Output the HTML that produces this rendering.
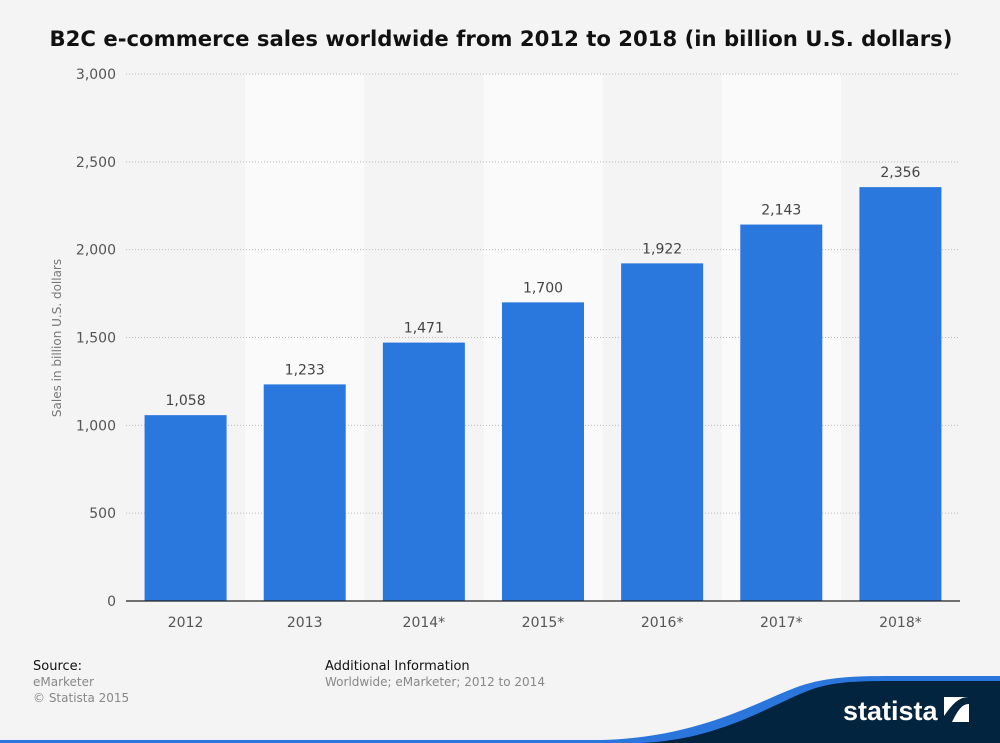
<!DOCTYPE html>
<html><head><meta charset="utf-8">
<style>
body{margin:0;width:1000px;height:743px;background:#f4f4f4;overflow:hidden;font-family:"DejaVu Sans","Liberation Sans",sans-serif;}
svg{position:absolute;left:0;top:0}
</style></head>
<body>
<svg id="chart" width="1000" height="743" xmlns="http://www.w3.org/2000/svg">
<rect width="1000" height="743" fill="#f4f4f4"/>
<text x="501" y="46" text-anchor="middle" font-size="21.2" font-weight="bold" fill="#111">B2C e-commerce sales worldwide from 2012 to 2018 (in billion U.S. dollars)</text>
<g id="bands"></g><g id="grid"></g><g id="bars"></g><g id="labels"></g>
<line x1="126" y1="601" x2="960" y2="601" stroke="#222" stroke-width="1.2"/>
<text transform="translate(61,338) rotate(-90)" text-anchor="middle" font-size="12" fill="#777">Sales in billion U.S. dollars</text>
<text x="33" y="670" font-size="13" fill="#111">Source:</text>
<text x="33" y="686" font-size="12" fill="#888">eMarketer</text>
<text x="33" y="702" font-size="12" fill="#888">© Statista 2015</text>
<text x="325" y="670" font-size="13" fill="#111">Additional Information</text>
<text x="325" y="686" font-size="12" fill="#888">Worldwide; eMarketer; 2012 to 2014</text>
<path d="M0,740 L600,740 C700,738 760,700 800,686 C830,676 860,676 900,676 L1000,676 L1000,743 L0,743 Z" fill="#2a76dd"/>
<path d="M640,743 C720,740 770,705 810,690 C835,681 860,681 900,681 L1000,681 L1000,743 Z" fill="#03243e"/>
<text x="843" y="720" font-size="27" font-weight="bold" fill="#fff" font-family="Liberation Sans Narrow, Liberation Sans, sans-serif">statista</text>
<g><rect x="944" y="697" width="25" height="25" fill="#fff"/><path d="M944,722 L952,722 C958,710 962,704 969,704 L969,697 C958,697 952,705 944,716 Z" fill="#03243e"/></g>
</svg>
<script>
const categories=["2012","2013","2014*","2015*","2016*","2017*","2018*"];
const values=[1058,1233,1471,1700,1922,2143,2356];
const valueLabels=["1,058","1,233","1,471","1,700","1,922","2,143","2,356"];
const yTicks=[0,500,1000,1500,2000,2500,3000];
const yTickLabels=["0","500","1,000","1,500","2,000","2,500","3,000"];
const NS="http://www.w3.org/2000/svg";
const x0=126,x1=960,yTop=74,yBot=601,yMax=3000;
const bw=(x1-x0)/categories.length;
function y(v){return yBot-(v/yMax)*(yBot-yTop);}
function xc(i){return x0+bw*(i+0.5);}
function mk(tag,attrs,parent){const e=document.createElementNS(NS,tag);for(const k in attrs)e.setAttribute(k,attrs[k]);document.getElementById(parent).appendChild(e);return e;}
categories.forEach((c,i)=>{if(i%2===1){const b=mk('rect',{x:x0+bw*i,y:yTop,width:bw,height:yBot-yTop,fill:'#fafafa'},'bands');

}});
yTicks.forEach((t,i)=>{if(t>0){const l=mk('line',{x1:x0,x2:x1,y1:y(t),y2:y(t),stroke:'#bbb','stroke-dasharray':'1,2'},'grid');

}
const tx=mk('text',{x:116,y:y(t)+5,'text-anchor':'end','font-size':14,fill:'#555'},'labels');tx.textContent=yTickLabels[i];

});
values.forEach((v,i)=>{const w=82;const r=mk('rect',{x:xc(i)-w/2,y:y(v),width:w,height:yBot-y(v),fill:'#2a77de'},'bars');


const t=mk('text',{x:xc(i),y:y(v)-10,'text-anchor':'middle','font-size':14,fill:'#444'},'labels');t.textContent=valueLabels[i];


const c=mk('text',{x:xc(i),y:627,'text-anchor':'middle','font-size':14,fill:'#555'},'labels');c.textContent=categories[i];

});
</script>
</body></html>
